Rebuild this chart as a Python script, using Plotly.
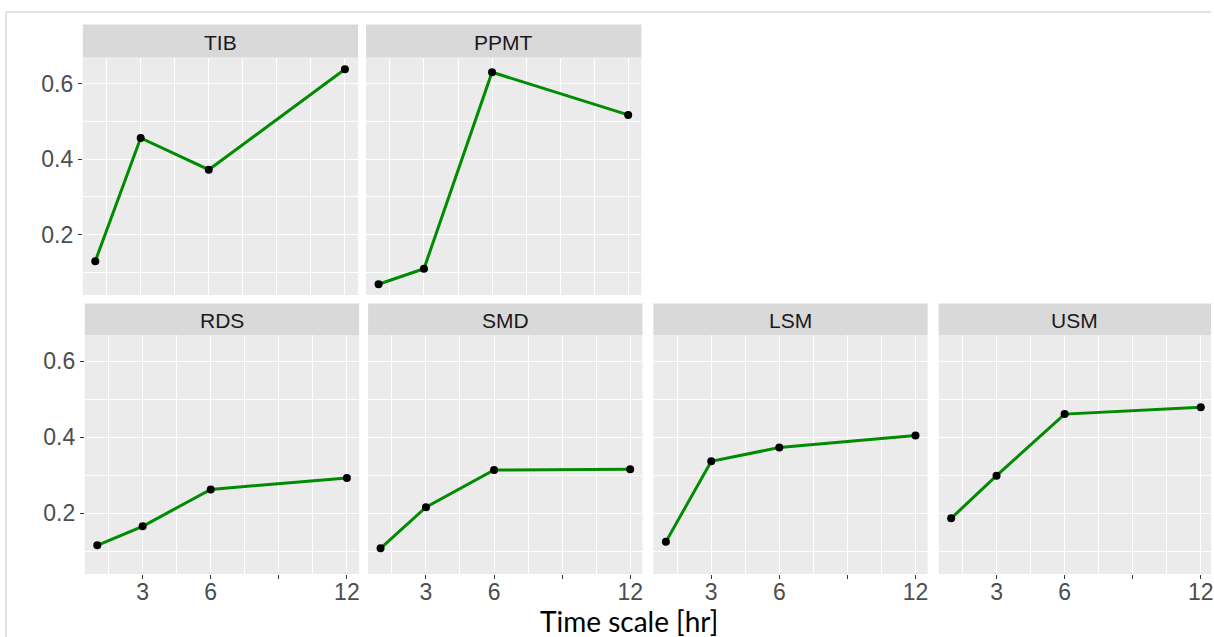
import plotly.graph_objects as go

# ---- data ----
time_hr = [1, 3, 6, 12]
TIB = [0.130, 0.456, 0.372, 0.638]
PPMT = [0.069, 0.110, 0.630, 0.517]
RDS = [0.116, 0.166, 0.263, 0.293]
SMD = [0.108, 0.216, 0.314, 0.316]
LSM = [0.125, 0.337, 0.373, 0.405]
USM = [0.187, 0.299, 0.461, 0.479]
panel_names = ["TIB", "PPMT", "RDS", "SMD", "LSM", "USM"]
panel_values = [TIB, PPMT, RDS, SMD, LSM, USM]
x_tickvals = [3, 6, 9, 12]
x_ticktext = ["3", "6", "", "12"]
y_tickvals = [0.2, 0.4, 0.6]
y_ticktext = ["0.2", "0.4", "0.6"]

W, H = 1214, 637
# pixel layout: (left, right, strip_top, strip_bottom/panel_top, panel_bottom, row)
boxes = [
    (83, 359, 24.5, 57.5, 295, 0),
    (367, 643, 24.5, 57.5, 295, 0),
    (85, 360, 303.5, 335, 574, 1),
    (369, 644, 303.5, 335, 574, 1),
    (655, 930, 303.5, 335, 574, 1),
    (941, 1214, 303.5, 335, 574, 1),
]
px_per_unit = 22.75
x0 = 0.45

def fx(px):
    return px / W

def fy(py):
    return 1 - py / H

fig = go.Figure()
shapes = []
annotations = []
tick_font = dict(family="Liberation Sans, Arial, sans-serif", size=23, color="#4d4d4d")

for i, (name, vals, box) in enumerate(zip(panel_names, panel_values, boxes)):
    l, r, st, pt, pb, row = box
    k = i + 1
    xa = "x" if k == 1 else f"x{k}"
    ya = "y" if k == 1 else f"y{k}"
    fig.add_trace(go.Scatter(
        x=time_hr, y=vals, mode="lines+markers",
        line=dict(color="#008B00", width=3),
        marker=dict(color="black", size=8),
        xaxis=xa, yaxis=ya, showlegend=False, cliponaxis=False,
    ))
    x_end = x0 + (r - l) / px_per_unit
    show_x = row == 1
    show_y = (i == 0 or i == 2)
    xaxis = dict(
        domain=[fx(l), fx(r)], anchor=ya, range=[x0, x_end],
        tickmode="array", tickvals=x_tickvals, ticktext=x_ticktext,
        showgrid=True, gridcolor="white", gridwidth=1.1,
        minor=dict(tickvals=[1.5, 4.5, 7.5, 10.5], showgrid=True,
                   gridcolor="white", gridwidth=0.6, ticks=""),
        zeroline=False, showline=False,
        ticks="outside" if show_x else "", ticklen=4, tickwidth=1, tickcolor="#333333",
        showticklabels=show_x, tickfont=tick_font, fixedrange=True,
        ticklabelstandoff=-7, ticklabeloverflow="allow",
    )
    yaxis = dict(
        domain=[fy(pb), fy(pt)], anchor=xa, range=[0.0405, 0.669],
        tickmode="array", tickvals=y_tickvals, ticktext=y_ticktext,
        showgrid=True, gridcolor="white", gridwidth=1.1,
        minor=dict(tickvals=[0.1, 0.3, 0.5], showgrid=True,
                   gridcolor="white", gridwidth=0.6, ticks=""),
        zeroline=False, showline=False,
        ticks="outside" if show_y else "", ticklen=4, tickwidth=1, tickcolor="#333333",
        showticklabels=show_y, tickfont=tick_font, fixedrange=True,
    )
    fig.update_layout(**{("xaxis" if k == 1 else f"xaxis{k}"): xaxis,
                         ("yaxis" if k == 1 else f"yaxis{k}"): yaxis})
    # strip
    shapes.append(dict(type="rect", xref="paper", yref="paper",
                       x0=fx(l), x1=fx(r), y0=fy(pt), y1=fy(st),
                       fillcolor="#d9d9d9", line=dict(width=0), layer="below"))
    annotations.append(dict(text=name, xref="paper", yref="paper",
                            x=fx((l + r) / 2), y=fy((st + pt) / 2 + 1.5),
                            xanchor="center", yanchor="middle", showarrow=False,
                            font=dict(family="Liberation Sans, Arial, sans-serif",
                                      size=21, color="#1a1a1a")))

# outer frame lines
shapes.append(dict(type="line", xref="paper", yref="paper",
                   x0=fx(6), x1=1, y0=fy(12), y1=fy(12),
                   line=dict(color="#d9d9d9", width=1.5)))
shapes.append(dict(type="line", xref="paper", yref="paper",
                   x0=fx(6), x1=fx(6), y0=0, y1=fy(12),
                   line=dict(color="#d9d9d9", width=1.5)))

annotations.append(dict(text="Time scale [hr]", xref="paper", yref="paper",
                        x=fx(630.5), y=fy(621), xanchor="center", yanchor="middle",
                        showarrow=False,
                        font=dict(family="Lato, sans-serif", size=28, color="black")))

fig.update_layout(
    width=W, height=H, autosize=False,
    margin=dict(l=0, r=0, t=0, b=0, pad=0),
    paper_bgcolor="white", plot_bgcolor="#ebebeb",
    shapes=shapes, annotations=annotations,
)

fig.write_html("out.html", config={"displayModeBar": False},
               post_script="document.body.style.margin='0';document.body.style.overflow='hidden';")
